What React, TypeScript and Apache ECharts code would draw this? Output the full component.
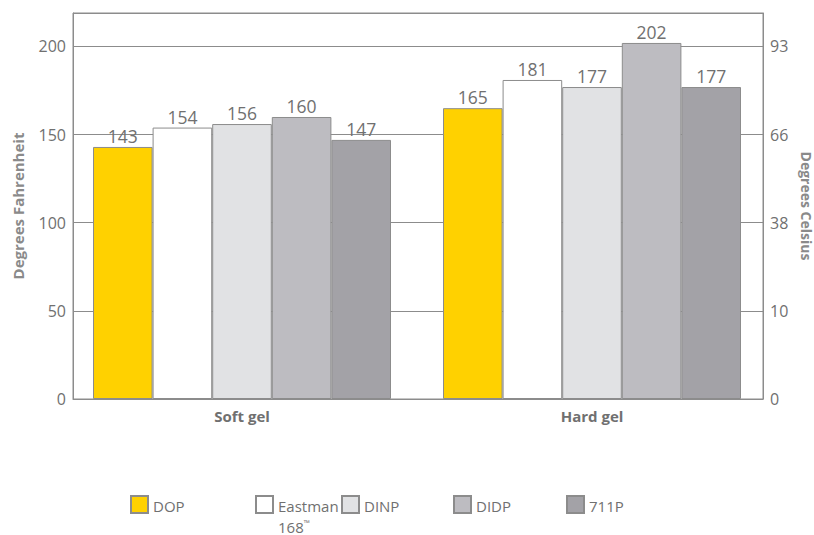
import React, { useEffect, useRef } from "react";
import * as echarts from "echarts";

const categories = ["Soft gel", "Hard gel"];
const seriesNames = ["DOP", "Eastman 168™", "DINP", "DIDP", "711P"];
const dopValues = [143, 165];
const eastmanValues = [154, 181];
const dinpValues = [156, 177];
const didpValues = [160, 202];
const p711Values = [147, 177];
const fahrenheitTicks = [0, 50, 100, 150, 200];
const celsiusLabels = ["0", "10", "38", "66", "93"];

const colors = ["#FFD100", "#FFFFFF", "#E1E2E4", "#BDBCC1", "#A3A2A7"];
const legendLefts = [130, 255, 341, 453, 566];
const FONT = "'Open Sans', 'Noto Sans', sans-serif";
const AXIS_GRAY = "#8C8C8C";
const TEXT_GRAY = "#707070";

export default function App() {
  const ref = useRef<HTMLDivElement>(null);
  useEffect(() => {
    if (!ref.current) return;
    const chart = echarts.init(ref.current, undefined, { renderer: "svg" });
    const allValues = [dopValues, eastmanValues, dinpValues, didpValues, p711Values];
    const series = seriesNames.map((name, i) => ({
      name,
      type: "bar",
      xAxisIndex: 1,
      yAxisIndex: 2,
      data: allValues[i],
      barWidth: 59.6,
      barGap: "0%",
      itemStyle: { color: colors[i], borderColor: AXIS_GRAY, borderWidth: 1 },
      label: {
        show: true,
        position: "top",
        distance: 2,
        color: TEXT_GRAY,
        fontSize: 17.5,
        fontFamily: FONT,
      },
    }));
    const legends = seriesNames.map((name, i) => {
      const isEastman = name === "Eastman 168™";
      return {
        data: [name],
        left: legendLefts[i],
        top: 495,
        orient: "horizontal",
        icon: isEastman ? "path://M0,0H17V17H0ZM0,40" : "rect",
        itemWidth: 17,
        itemHeight: isEastman ? 40 : 17,
        itemGap: 5,
        padding: 0,
        selectedMode: false,
        formatter: (n: string) => (n === "Eastman 168™" ? "{a|Eastman}\n{a|168}{tm|™}" : n),
        textStyle: {
          color: TEXT_GRAY,
          fontSize: 15,
          fontFamily: FONT,
          padding: isEastman ? 0 : [3, 0, 0, 0],
          rich: {
            a: { color: TEXT_GRAY, fontSize: 15, fontFamily: FONT, lineHeight: 21 },
            tm: { color: TEXT_GRAY, fontSize: 8, fontFamily: FONT, lineHeight: 21, verticalAlign: "top", padding: [2, 0, 0, 0] },
          },
        },
      };
    });
    const labelFmt = (v: number) => {
      const idx = fahrenheitTicks.indexOf(v);
      return idx >= 0 ? String(fahrenheitTicks[idx]) : "";
    };
    const celsiusFmt = (v: number) => {
      const idx = fahrenheitTicks.indexOf(v);
      return idx >= 0 ? celsiusLabels[idx] : "";
    };
    chart.setOption({
      animation: false,
      backgroundColor: "#FFFFFF",
      grid: [
        {
          left: 73,
          right: 51,
          top: 13,
          bottom: 136,
          show: true,
          borderColor: AXIS_GRAY,
          borderWidth: 1,
          outerBoundsMode: "none",
          containLabel: false,
        },
        {
          left: 67,
          right: 47,
          top: 13,
          bottom: 136,
          show: false,
          outerBoundsMode: "none",
          containLabel: false,
        },
      ],
      legend: legends,
      xAxis: [
        {
          type: "category",
          gridIndex: 0,
          data: categories,
          axisLine: { lineStyle: { color: AXIS_GRAY } },
          axisTick: { show: false },
          axisLabel: { show: false },
        },
        {
          type: "category",
          gridIndex: 1,
          data: categories,
          axisLine: { show: false },
          axisTick: { show: false },
          axisLabel: {
            color: TEXT_GRAY,
            fontSize: 15,
            fontWeight: "bold",
            fontFamily: FONT,
            margin: 9,
          },
        },
      ],
      yAxis: [
        {
          type: "value",
          gridIndex: 0,
          min: 0,
          max: 219,
          interval: 50,
          name: "Degrees Fahrenheit",
          nameLocation: "middle",
          nameGap: 48,
          nameTextStyle: { color: "#8A8A8A", fontSize: 15, fontWeight: "bold", fontFamily: FONT },
          axisLine: { show: true, lineStyle: { color: AXIS_GRAY } },
          axisTick: { show: false },
          axisLabel: { color: TEXT_GRAY, fontSize: 16, fontFamily: FONT, formatter: labelFmt, margin: 7 },
          splitLine: { show: true, lineStyle: { color: AXIS_GRAY, width: 1 } },
        },
        {
          type: "value",
          gridIndex: 0,
          min: 0,
          max: 219,
          interval: 50,
          position: "right",
          name: "Degrees Celsius",
          nameLocation: "middle",
          nameGap: 31,
          nameRotate: -90,
          nameTextStyle: { color: "#8A8A8A", fontSize: 14, lineHeight: 14, fontWeight: "bold", fontFamily: FONT },
          axisLine: { show: true, lineStyle: { color: AXIS_GRAY } },
          axisTick: { show: false },
          axisLabel: { color: TEXT_GRAY, fontSize: 16, fontFamily: FONT, formatter: celsiusFmt, margin: 7 },
          splitLine: { show: false },
        },
        {
          type: "value",
          gridIndex: 1,
          min: 0,
          max: 219,
          interval: 50,
          show: false,
          splitLine: { show: false },
        },
      ],
      series,
    });
    return () => chart.dispose();
  }, []);
  return <div ref={ref} style={{ width: 814, height: 535, position: "absolute", left: 0, top: 0 }} />;
}
